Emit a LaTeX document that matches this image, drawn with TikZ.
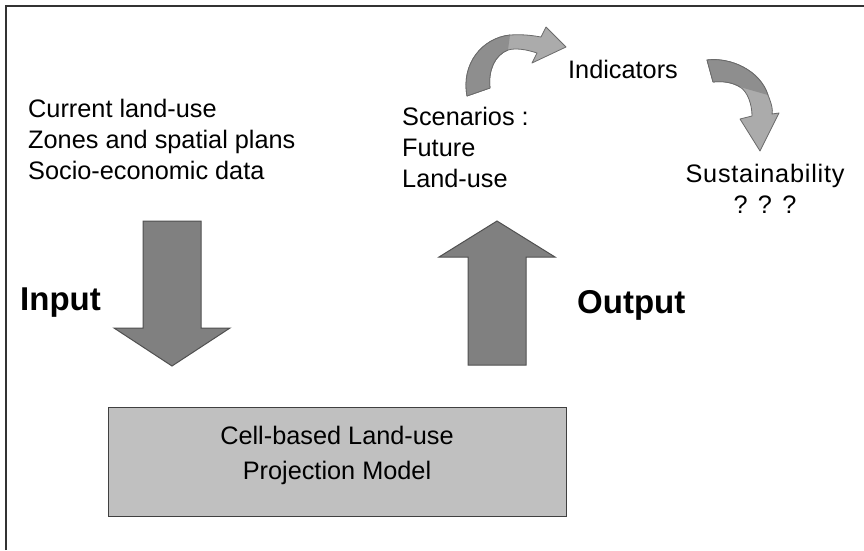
\documentclass[tikz,border=0pt]{standalone}
\usepackage{fontspec}
\setmainfont{Liberation Sans}
\begin{document}
\begin{tikzpicture}[x=1pt,y=-1pt]
\definecolor{arrowgray}{HTML}{808080}
\definecolor{arrowedge}{HTML}{505050}
\definecolor{boxgray}{HTML}{C0C0C0}
\definecolor{curvedark}{HTML}{8E8E8E}
\definecolor{curvelight}{HTML}{ABABAB}
\definecolor{curveedge}{HTML}{6A6A6A}
\tikzset{
  txt/.style={inner sep=0pt, font=\fontsize{25.3}{31}\selectfont},
  bigtxt/.style={inner sep=0pt, font=\fontsize{33}{36}\selectfont\bfseries},
  fatarrow/.style={fill=arrowgray, draw=arrowedge, line width=1pt, line join=miter},
  curvedarrow/.style={fill=curvelight, draw=curveedge, line width=0.8pt, line join=round},
  frameline/.style={line width=2pt, draw=black!80}
}
\useasboundingbox (0,0) rectangle (864,550);
% frame (top and left sides)
\draw[frameline] (6,550) -- (6,6) -- (864,6);
% texts (base anchor = baseline of the last line)
\node[txt, anchor=base west, align=left] (inputs) at (28,179)
  {Current land-use\\Zones and spatial plans\\Socio-economic data};
\node[txt, anchor=base west, align=left] (scen) at (402,187)
  {Scenarios :\\Future\\Land-use};
\node[txt, anchor=base west] (ind) at (568,78) {Indicators};
\node[txt, anchor=base, align=center, font=\fontsize{25.3}{31}\selectfont\addfontfeatures{LetterSpace=3}] (sust) at (765,213) {Sustainability\\? ? ?};
\node[bigtxt, anchor=base west] (inlab) at (20,310) {Input};
\node[bigtxt, anchor=base west] (outlab) at (577,313) {Output};
% model box
\node[draw=black!75, line width=1.2pt, fill=boxgray, minimum width=458pt, minimum height=109pt, anchor=north west] (model) at (108,407) {};
\node[txt, align=center, font=\fontsize{25.3}{35}\selectfont] (modeltxt) at (337,455) {Cell-based Land-use\\Projection Model};
% input arrow (down)
\draw[fatarrow] (143,221) -- (201,221) -- (201,328) -- (230,328) -- (172,366) -- (114,328) -- (143,328) -- cycle;
% output arrow (up)
\draw[fatarrow] (468,365) -- (526,365) -- (526,257) -- (555,257) -- (497,221) -- (439,257) -- (468,257) -- cycle;
% curved arrow 1: scenarios -> indicators
\draw[curvedarrow] (467,96) .. controls (461,64) and (482,38) .. (510,35)
  .. controls (525,34) and (535,36) .. (541,37) -- (546,27) -- (566,47) -- (532,63) -- (537,53)
  .. controls (525,49) and (515,48) .. (508,50)
  .. controls (495,55) and (488,70) .. (490,88) -- cycle;
\fill[curvedark] (467,96) .. controls (461,64) and (482,38) .. (510,35) -- (508,50)
  .. controls (495,55) and (488,70) .. (490,88) -- cycle;
\draw[draw=curveedge, line width=0.8pt, line join=round] (467,96) .. controls (461,64) and (482,38) .. (510,35);
\draw[draw=curveedge, line width=0.8pt, line join=round] (508,50) .. controls (495,55) and (488,70) .. (490,88) -- (467,96);
% curved arrow 2: indicators -> sustainability
\draw[curvedarrow] (707,60) .. controls (730,57) and (760,70) .. (768,95)
  .. controls (772,105) and (773,110) .. (772,114) -- (779,113) -- (760,151) -- (740,119) -- (752,116)
  .. controls (752,105) and (748,92) .. (740,87)
  .. controls (732,82) and (722,81) .. (713,82) -- cycle;
\fill[curvedark] (707,60) .. controls (730,57) and (760,70) .. (768,95) -- (740,87)
  .. controls (732,82) and (722,81) .. (713,82) -- cycle;
\draw[draw=curveedge, line width=0.8pt, line join=round] (713,82) -- (707,60) .. controls (730,57) and (760,70) .. (768,95);
\draw[draw=curveedge, line width=0.8pt, line join=round] (740,87) .. controls (732,82) and (722,81) .. (713,82);
\end{tikzpicture}
\end{document}
